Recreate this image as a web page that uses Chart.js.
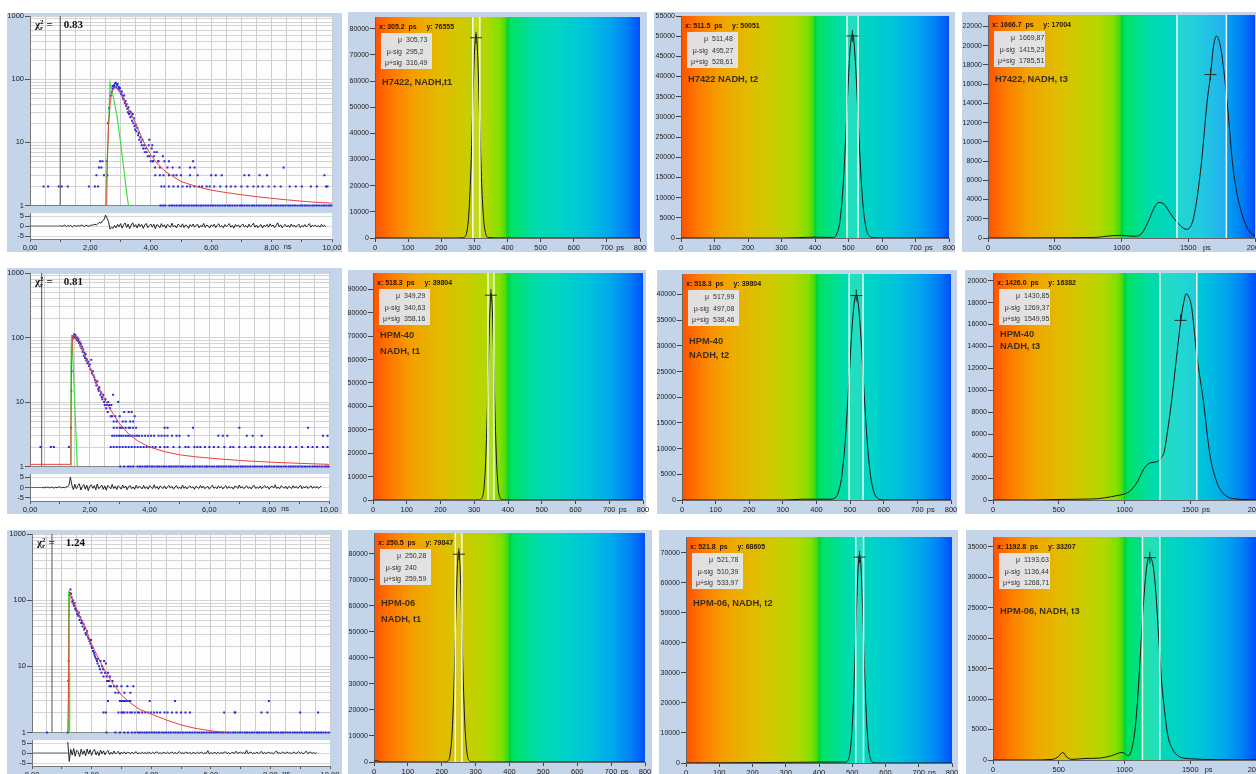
<!DOCTYPE html>
<html>
<head>
<meta charset="utf-8">
<script src="https://cdn.jsdelivr.net/npm/chart.js@4.4.1/dist/chart.umd.min.js"></script>
<style>
  html, body { margin: 0; padding: 0; }
  body { width: 1256px; height: 774px; overflow: hidden; position: relative; background: #fff;
         font-family: "Liberation Sans", Arial, sans-serif; }
  .bg { position: absolute; background: #c4d5ea; }
  canvas { position: absolute; }
  .txt { position: absolute; white-space: nowrap; color: #222; line-height: 1; }
  .readout { font-size: 7px; font-weight: bold; color: #2a1600; }
  .stats { position: absolute; background: rgba(224, 231, 241, 0.93); font-size: 7px; color: #333; }
  .stats div { height: 11.5px; line-height: 11.5px; white-space: nowrap; }
  .stats span { display: inline-block; width: 21px; text-align: right; margin-right: 4px; }
  .title { font-size: 9.3px; font-weight: bold; color: #3a3020; }
  .chi { font-family: "Liberation Serif", "Times New Roman", serif; font-weight: bold; font-size: 11px; color: #111; }
  .chi i { display: inline-block; font-style: normal; font-size: 7px; line-height: 6px; vertical-align: middle; margin-right: 3px; }
  .unit { font-size: 7.5px; color: #222; }
</style>
</head>
<body>
<script>
// ---------- decay data (counts vs time, ns) ----------
const d1Chi = '0.83';
const d1Cursor = 1.0;
const d1IrfX = [2.5, 2.58, 2.65, 2.75, 2.87, 3.0, 3.1, 3.2, 3.26];
const d1IrfY = [1, 10, 88, 55, 28, 10, 4, 1.6, 1];
const d1FitX = [0, 2.54, 2.56, 2.6, 2.65, 2.7, 2.76, 2.81, 2.9, 2.98, 3.1, 3.2, 3.35, 3.5, 3.75, 4.0, 4.25, 4.5, 5.0, 5.5, 6.0, 6.5, 7.0, 7.5, 8.0, 8.5, 9.0, 9.5, 10];
const d1FitY = [1, 1, 5, 18, 40, 60, 70, 75, 72, 65, 48, 37, 28, 20, 10.5, 6.3, 4.4, 3.4, 2.4, 2.0, 1.75, 1.6, 1.48, 1.38, 1.3, 1.23, 1.17, 1.12, 1.09];
const d1PtsX = [2.54, 2.56, 2.58, 2.62, 2.66, 2.7, 2.72, 2.74, 2.76, 2.78, 2.8, 2.82, 2.84, 2.86, 2.88, 2.9, 2.92, 2.94, 2.96, 2.98, 3.0, 3.02, 3.04, 3.06, 3.08, 3.1, 3.12, 3.14, 3.16, 3.18, 3.2, 3.22, 3.24, 3.26, 3.28, 3.3, 3.32, 3.34, 3.36, 3.38, 3.4, 3.42, 3.44, 3.46, 3.48, 3.5, 3.52, 3.55, 3.58, 3.6, 3.62, 3.65, 3.68, 3.7, 3.72, 3.75, 3.78, 3.8, 3.83, 3.86, 3.9, 3.93, 3.95, 3.96, 4.0, 4.03, 4.05, 4.07, 4.1, 4.12, 4.14, 4.2, 4.25, 4.3, 4.4, 4.45, 4.55, 4.6, 5.4, 8.4];
const d1PtsY = [5, 3, 20, 35, 55, 62, 70, 78, 72, 80, 76, 85, 88, 74, 80, 84, 70, 75, 66, 72, 62, 58, 64, 55, 50, 48, 55, 42, 45, 38, 40, 34, 30, 36, 28, 31, 25, 30, 26, 22, 28, 20, 24, 18, 16, 19, 15, 17, 13, 14, 11, 12, 10, 9, 11, 8, 9, 7, 8, 7, 6, 9, 11, 6, 5, 8, 9, 5, 6, 7, 4, 7, 5, 4, 6, 5, 4, 5, 5, 4];
const d1Lev5 = [2.32, 2.4, 4.08, 4.25];
const d1Lev4 = [2.28, 2.36, 4.72, 4.95, 5.3, 5.45];
const d1Lev3 = [2.2, 2.45, 4.15, 4.3, 4.42, 4.6, 4.75, 4.85, 5.0, 5.3, 5.55, 6.0, 6.15, 6.35, 7.1, 7.25, 7.6, 7.85, 9.75];
const d1Lev2 = [0.45, 0.6, 0.95, 1.05, 1.25, 1.95, 2.15, 2.25, 4.35, 4.45, 4.6, 4.75, 4.9, 5.05, 5.2, 5.3, 5.45, 5.6, 5.7, 5.85, 5.95, 6.1, 6.3, 6.5, 6.65, 6.8, 7.0, 7.2, 7.4, 7.55, 7.7, 7.9, 8.1, 8.3, 8.6, 8.8, 9.0, 9.3, 9.5, 9.8, 9.85];
const d1Lev1 = [4.32, 4.4, 4.48, 4.62, 4.7, 4.78, 4.86, 4.95, 5.02, 5.1, 5.18, 5.26, 5.35, 5.42, 5.5, 5.58, 5.66, 5.74, 5.82, 5.9, 5.98, 6.06, 6.14, 6.22, 6.3, 6.38, 6.46, 6.55, 6.62, 6.7, 6.78, 6.86, 6.95, 7.02, 7.1, 7.18, 7.26, 7.35, 7.42, 7.5, 7.58, 7.66, 7.74, 7.82, 7.9, 7.98, 8.06, 8.14, 8.22, 8.3, 8.38, 8.46, 8.55, 8.62, 8.7, 8.78, 8.86, 8.95, 9.02, 9.1, 9.18, 9.26, 9.35, 9.42, 9.5, 9.58, 9.66, 9.74, 9.82, 9.9, 9.97];
const d1ResStart = 1.0;
const d1Res = [0.3, -0.2, 0.1, 0.4, -0.3, 0.2, -0.1, 0.3, -0.4, 0.1, 0.2, -0.2, 0.3, -0.1, 0.5, 0.2, -0.3, 0.4, 0.1, -0.2, 0.3, 0.4, 0.6, 0.9, 0.5, 1.2, 1.8, 1.4, 2.6, 3.1, 5.4, 4.0, 2.2, -1.6, -0.6, -1.2, 0.3, -0.9, 0.8, -0.4, 1.2, -1.1, 0.6, 1.5, -0.7, 0.9, -1.3, 0.4, 1.6, -0.5, 0.7, -1.0, 1.1, -0.3, 0.8, -1.2, 0.5, 1.3, -0.8, 0.2, 1.0, -0.6, 0.9, -1.4, 0.7, 0.3, -0.9, 1.2, -0.4, 0.6, -1.1, 0.8, 0.2, -0.7, 1.4, -0.5, 0.3, -1.0, 0.9, 0.4, -0.6, 1.1, -0.8, 0.5, 0.2, -1.2, 0.7, -0.3, 1.0, -0.6, 0.4, 0.8, -0.9, 0.3, -0.4, 1.3, -0.7, 0.5, 0.1, -1.0, 0.6, -0.2, 0.9, -0.8, 0.4, 1.1, -0.5, 0.2, -0.9, 0.7, -0.3, 0.5, 1.2, -0.6, 0.3, -1.1, 0.8, -0.2, 0.6, -0.7, 0.4, 1.0, -0.5, 0.2, -0.8, 0.9, -0.4, 0.3, 1.4, -0.6, 0.5, -0.9, 0.2, 0.7, -1.0, 0.4, -0.3, 0.8, -0.6, 1.1, -0.2, 0.5, -0.8, 0.3, 1.6, -0.4, 0.6, -0.9, 0.2, 0.8, -0.5, 0.4, -0.7, 1.0, -0.3, 0.5, -0.6, 0.3, 0.9, -0.8, 0.2, -0.4, 0.7, -0.5, 0.3, 1.2, -0.6, 0.4, -0.2, 0.5, -0.4, 0.3, -0.6, 0.8, -0.3, 0.4, -0.5];

const d2Chi = '0.81';
const d2Cursor = 0.39;
const d2IrfX = [1.35, 1.37, 1.39, 1.41, 1.47, 1.53, 1.58];
const d2IrfY = [1, 40, 110, 95, 20, 4, 1];
const d2FitX = [0, 1.36, 1.37, 1.39, 1.42, 1.45, 1.5, 1.6, 1.7, 1.8, 1.9, 2.0, 2.1, 2.2, 2.35, 2.5, 2.7, 3.0, 3.3, 3.6, 4.0, 4.5, 5.0, 5.5, 6.0, 7.0, 8.0, 9.0, 10];
const d2FitY = [1.08, 1.08, 3.5, 40, 95, 108, 104, 90, 74, 58, 45, 35, 27, 21, 15, 11, 7.5, 4.6, 3.2, 2.5, 2.0, 1.7, 1.52, 1.42, 1.35, 1.24, 1.17, 1.12, 1.08];
const d2PtsX = [1.37, 1.38, 1.39, 1.4, 1.42, 1.44, 1.46, 1.48, 1.5, 1.52, 1.54, 1.56, 1.58, 1.6, 1.62, 1.64, 1.66, 1.68, 1.7, 1.72, 1.74, 1.76, 1.78, 1.8, 1.82, 1.84, 1.86, 1.88, 1.9, 1.92, 1.95, 1.97, 2.0, 2.02, 2.05, 2.07, 2.1, 2.12, 2.15, 2.18, 2.2, 2.22, 2.25, 2.28, 2.3, 2.32, 2.35, 2.38, 2.4, 2.42, 2.45, 2.48, 2.5, 2.52, 2.55, 2.58, 2.6, 2.62, 2.65, 2.68, 2.7, 2.72, 2.75, 2.78, 2.8, 2.85, 2.9, 2.95, 3.0, 3.05, 3.1, 3.15, 3.2, 3.3, 3.35, 3.4, 3.45, 3.5];
const d2PtsY = [4, 15, 30, 60, 95, 105, 100, 112, 102, 108, 98, 92, 100, 88, 94, 82, 86, 75, 80, 68, 72, 60, 65, 52, 58, 48, 55, 44, 46, 40, 42, 36, 38, 32, 45, 28, 30, 26, 24, 22, 20, 18, 21, 16, 15, 17, 13, 14, 12, 11, 13, 10, 9, 11, 8, 9, 7, 10, 9, 8, 6, 9, 6, 13, 5, 6, 5, 10, 6, 4, 5, 7, 5, 7, 5, 7, 5, 6];
const d2Lev4 = [2.8, 2.9, 3.0, 3.1, 3.2, 3.3, 3.35, 3.45, 3.55, 4.5, 4.6, 5.45, 7.0, 9.3];
const d2Lev3 = [2.75, 2.82, 2.9, 2.98, 3.05, 3.12, 3.2, 3.28, 3.35, 3.42, 3.5, 3.58, 3.65, 3.75, 3.85, 3.95, 4.05, 4.15, 4.3, 4.4, 4.5, 4.6, 4.75, 4.9, 5.0, 5.3, 6.3, 6.45, 6.6, 7.25, 7.45, 7.75, 9.8, 9.95];
const d2Lev2 = [0.35, 0.7, 0.8, 1.3, 2.7, 2.8, 2.9, 3.0, 3.1, 3.2, 3.3, 3.4, 3.5, 3.6, 3.7, 3.8, 3.9, 4.0, 4.1, 4.2, 4.35, 4.5, 4.6, 4.8, 5.0, 5.2, 5.3, 5.5, 5.6, 5.7, 5.85, 6.0, 6.15, 6.3, 6.5, 6.7, 6.8, 7.0, 7.2, 7.4, 7.5, 7.7, 7.85, 8.0, 8.2, 8.35, 8.5, 8.7, 8.9, 9.1, 9.3, 9.45, 9.6, 9.8, 9.95];
const d2Lev1 = [3.02, 3.15, 3.28, 3.36, 3.45, 3.6, 3.68, 3.76, 3.85, 3.92, 4.0, 4.08, 4.16, 4.25, 4.32, 4.4, 4.48, 4.56, 4.65, 4.72, 4.8, 4.88, 4.96, 5.05, 5.12, 5.2, 5.28, 5.36, 5.45, 5.52, 5.6, 5.68, 5.76, 5.85, 5.92, 6.0, 6.08, 6.16, 6.25, 6.32, 6.4, 6.48, 6.56, 6.65, 6.72, 6.8, 6.88, 6.96, 7.05, 7.12, 7.2, 7.28, 7.36, 7.45, 7.52, 7.6, 7.68, 7.76, 7.85, 7.92, 8.0, 8.08, 8.16, 8.25, 8.32, 8.4, 8.48, 8.56, 8.65, 8.72, 8.8, 8.88, 8.96, 9.05, 9.12, 9.2, 9.28, 9.36, 9.45, 9.52, 9.6, 9.68, 9.76, 9.85, 9.92, 9.98];
const d2ResStart = 0.4;
const d2Res = [0.1, -0.2, 0.2, -0.1, 0.3, -0.2, 0.1, 0.2, -0.3, 0.1, -0.1, 0.2, 0.3, -0.2, 0.1, -0.1, 0.2, 0.4, 0.9, 5.0, 1.2, -1.0, 1.6, -0.6, 0.9, 1.8, -1.2, 0.5, 1.4, -0.8, 1.1, -1.5, 0.7, 1.3, -0.4, 0.9, -1.1, 1.7, -0.6, 0.3, 1.2, -0.9, 0.8, -1.3, 1.0, 0.4, -0.7, 1.5, -0.5, 0.6, -1.0, 0.9, 0.2, -0.8, 1.2, -0.3, 0.7, -1.1, 0.5, 0.9, -0.6, 0.3, -0.9, 1.1, -0.4, 0.6, 0.2, -0.7, 1.0, -0.5, 0.4, -0.8, 0.9, 0.1, -0.6, 1.3, -0.4, 0.5, -0.9, 0.7, 0.2, -0.5, 0.8, -0.7, 0.4, 1.0, -0.3, 0.6, -0.8, 0.3, 0.9, -0.5, 0.2, -0.6, 1.2, -0.4, 0.5, -0.7, 0.3, 0.8, -0.2, 0.4, -0.9, 0.6, 0.1, -0.5, 1.0, -0.3, 0.7, -0.6, 0.2, 0.5, -0.8, 0.4, 1.1, -0.4, 0.3, -0.6, 0.8, -0.2, 0.5, -0.7, 0.3, 0.9, -0.5, 0.6, -0.3, 0.2, -0.8, 0.7, 0.4, -0.5, 1.2, -0.3, 0.5, -0.6, 0.2, 0.8, -0.4, 0.3, -0.7, 0.6, 1.0, -0.5, 0.2, -0.4, 0.7, -0.6, 0.3, 0.9, -0.2, 0.5, -0.8, 0.4, 0.6, -0.3, 1.3, -0.5, 0.2, -0.6, 0.8, 0.3, -0.4, 0.7, -0.7, 0.5, 0.1, -0.5, 0.9, -0.3, 0.6, -0.4, 0.2, 1.1, -0.6, 0.4, -0.2, 0.7, -0.5, 0.3, 0.8, -0.4, 0.5, -0.3, 0.6, -0.5, 0.3, 0.7];

const d3Chi = '1.24';
const d3Cursor = 0.67;
const d3IrfX = [1.21, 1.225, 1.235, 1.25, 1.265];
const d3IrfY = [1, 12, 140, 8, 1];
const d3FitX = [1.2, 1.22, 1.25, 1.27, 1.35, 1.45, 1.55, 1.65, 1.75, 1.85, 1.95, 2.1, 2.3, 2.5, 2.7, 3.0, 3.3, 3.6, 4.0, 4.5, 5.0, 5.5, 6.0, 6.55];
const d3FitY = [1, 3, 100, 130, 105, 83, 66, 52, 43, 33, 24, 17.5, 11.5, 7.8, 5.6, 3.7, 2.8, 2.25, 1.9, 1.55, 1.3, 1.15, 1.06, 1.0];
const d3PtsX = [1.22, 1.23, 1.25, 1.27, 1.29, 1.31, 1.33, 1.35, 1.37, 1.39, 1.41, 1.43, 1.45, 1.47, 1.5, 1.52, 1.55, 1.57, 1.6, 1.62, 1.65, 1.68, 1.7, 1.72, 1.75, 1.78, 1.8, 1.82, 1.85, 1.88, 1.9, 1.93, 1.96, 1.98, 2.0, 2.02, 2.05, 2.08, 2.1, 2.12, 2.15, 2.18, 2.2, 2.22, 2.25, 2.28, 2.3, 2.33, 2.35, 2.38, 2.4, 2.42, 2.45, 2.48, 2.5, 2.52, 2.55, 2.58, 2.6, 2.62, 2.65, 2.7, 2.75, 2.8, 2.85, 2.9, 3.0, 3.1, 3.2, 3.3, 3.4];
const d3PtsY = [6, 12, 120, 130, 145, 125, 110, 95, 100, 88, 82, 90, 75, 72, 68, 62, 58, 65, 50, 55, 45, 48, 40, 44, 36, 38, 32, 30, 34, 28, 26, 24, 22, 25, 20, 19, 17, 16, 15, 14, 13, 12, 11, 13, 10, 9, 12, 8, 10, 9, 7, 12, 8, 11, 7, 6, 8, 6, 5, 7, 5, 6, 5, 4, 5, 4, 5, 4, 5, 4, 5];
const d3Lev3 = [2.55, 2.95, 3.0, 3.05, 3.1, 3.15, 3.2, 3.25, 3.3, 3.95, 4.8, 7.95];
const d3Lev2 = [2.4, 2.48, 2.9, 3.0, 3.05, 3.1, 3.2, 3.3, 3.35, 3.45, 3.55, 3.6, 3.7, 3.8, 3.9, 4.0, 4.1, 4.2, 4.3, 4.45, 4.55, 4.7, 4.85, 5.0, 5.15, 5.3, 6.45, 6.8, 6.82, 7.7, 7.9, 9.0, 9.6];
const d3Lev1 = [0.5, 1.2, 2.5, 2.8, 2.95, 3.1, 3.22, 3.35, 3.45, 3.55, 3.62, 3.7, 3.78, 3.86, 3.94, 4.02, 4.1, 4.18, 4.26, 4.35, 4.42, 4.5, 4.58, 4.66, 4.75, 4.82, 4.9, 4.98, 5.06, 5.15, 5.22, 5.3, 5.38, 5.46, 5.55, 5.62, 5.7, 5.78, 5.86, 5.95, 6.02, 6.1, 6.18, 6.26, 6.35, 6.42, 6.5, 6.58, 6.66, 6.75, 6.82, 6.9, 6.98, 7.06, 7.15, 7.22, 7.3, 7.38, 7.46, 7.55, 7.62, 7.7, 7.78, 7.86, 7.95, 8.02, 8.1, 8.18, 8.26, 8.35, 8.42, 8.5, 8.58, 8.66, 8.75, 8.82, 8.9, 8.98, 9.06, 9.15, 9.22, 9.3, 9.38, 9.46, 9.55, 9.62, 9.7, 9.78, 9.86, 9.95];
const d3ResStart = 1.2;
const d3Res = [5.5, -4.2, 1.8, -1.0, 2.2, -1.6, 1.4, 0.6, -1.8, 1.9, -0.7, 1.2, -1.4, 2.0, -0.5, 1.6, -1.2, 0.9, 1.8, -1.0, 0.7, -1.3, 1.5, -0.4, 1.1, -0.9, 0.6, 1.3, -0.8, 0.4, -0.6, 1.0, -0.5, 0.3, 0.8, -0.7, 0.5, -0.3, 0.6, -0.5, 0.4, 0.2, -0.4, 0.5, -0.3, 0.3, 0.6, -0.5, 0.2, -0.3, 0.4, -0.2, 0.3, -0.4, 0.5, 0.1, -0.3, 0.4, -0.2, 0.3, 0.6, -0.3, 0.2, -0.4, 0.3, 0.1, -0.2, 0.4, -0.3, 0.2, 0.5, -0.2, 0.3, -0.3, 0.2, 0.7, -0.2, 0.1, -0.3, 0.4, 0.2, -0.2, 0.3, -0.4, 0.2, 0.1, -0.3, 0.5, -0.2, 0.2, 0.4, -0.3, 0.1, -0.2, 1.2, -0.4, 0.2, -0.3, 0.3, 0.1, -0.2, 0.4, -0.3, 0.2, -0.1, 0.3, 0.6, -0.3, 0.2, -0.4, 0.3, 0.1, -0.2, 0.9, -0.3, 0.2, 0.4, -0.2, 0.3, -0.4, 1.4, -0.3, 0.2, 0.5, -0.3, 0.1, -0.2, 0.4, -0.3, 0.2, 0.8, -0.4, 0.3, -0.2, 0.1, 0.5, -0.3, 0.2, -0.4, 0.3, 1.0, -0.2, 0.2, -0.3, 0.4, 0.1, -0.3, 0.6, -0.2, 0.3, -0.4, 0.2, 0.5, -0.3, 0.1, 0.7, -0.2, 0.3, -0.4, 0.2, 0.9, -0.3, 0.2, 0.4, -0.2, 0.3, -0.3, 0.2];

const decayXTicks = [0, 1, 2, 3, 4, 5, 6, 7, 8, 9, 10];
const decayXLabels = ['0,00', '', '2,00', '', '4,00', '', '6,00', '', '8,00', '', '10,00'];
const resTicks = [-5, 0, 5];
const RES_STEP = 0.05;

// ---------- lifetime histograms (counts vs ps) ----------
const psTicks800 = [0, 100, 200, 300, 400, 500, 600, 700, 800];
const psTicks2000 = [0, 500, 1000, 1500, 2000];
const yTicks10k = [0, 10000, 20000, 30000, 40000, 50000, 60000, 70000, 80000, 90000];
const yTicks5k = [0, 5000, 10000, 15000, 20000, 25000, 30000, 35000, 40000, 45000, 50000, 55000];
const yTicks2k = [0, 2000, 4000, 6000, 8000, 10000, 12000, 14000, 16000, 18000, 20000, 22000];

const h12X = [0, 100, 200, 240, 255, 265, 272, 278, 284, 290, 295, 300, 305, 310, 316, 322, 328, 334, 340, 348, 358, 370, 400, 500, 800];
const h12Y = [0, 0, 0, 0, 30, 120, 560, 2850, 10550, 28100, 49600, 69700, 78000, 69700, 45000, 21000, 7100, 1720, 300, 150, 80, 40, 0, 0, 0];
const h12Sig = [295.2, 316.49];
const h12Cross = [305.2, 76555];
const h12Read = ['305.2', '76555'];
const h12Stats = ['305,73', '295,2', '316,49'];
const h12Title = ['H7422, NADH,t1'];

const h13X = [0, 300, 350, 400, 440, 455, 465, 475, 485, 492, 500, 506, 511, 516, 522, 530, 538, 546, 555, 565, 575, 590, 610, 650, 800];
const h13Y = [0, 0, 100, 200, 150, 160, 1010, 4550, 14250, 25500, 39800, 47900, 50600, 48800, 41500, 27300, 14250, 5940, 1670, 290, 80, 20, 0, 0, 0];
const h13Sig = [495.27, 528.61];
const h13Cross = [511.5, 50051];
const h13Read = ['511.5', '50051'];
const h13Stats = ['511,48', '495,27', '528,61'];
const h13Title = ['H7422 NADH, t2'];

const h14X = [0, 400, 800, 850, 900, 950, 1000, 1050, 1100, 1150, 1200, 1240, 1280, 1320, 1360, 1400, 1440, 1487, 1530, 1560, 1600, 1640, 1667, 1690, 1712, 1740, 1770, 1800, 1830, 1860, 1900, 1940, 1970, 2000];
const h14Y = [0, 20, 60, 120, 200, 260, 280, 220, 180, 450, 1700, 3000, 3700, 3500, 2700, 1900, 1300, 900, 1600, 3600, 8000, 14000, 17000, 20000, 21000, 20000, 17000, 12800, 8000, 5000, 2600, 1100, 500, 200];
const h14Sig = [1415.23, 1785.51];
const h14Cross = [1666.7, 17004];
const h14Read = ['1666.7', '17004'];
const h14Stats = ['1669,87', '1415,23', '1785,51'];
const h14Title = ['H7422, NADH, t3'];

const h22X = [0, 200, 300, 315, 322, 328, 333, 338, 342, 346, 350, 354, 358, 362, 366, 371, 376, 382, 390, 400, 800];
const h22Y = [0, 0, 0, 30, 560, 3900, 13700, 34800, 58300, 79500, 88300, 79500, 58300, 34800, 17000, 5100, 1130, 120, 30, 0, 0];
const h22Sig = [340.63, 358.16];
const h22Cross = [349.3, 87500];
const h22Read = ['518.3', '39804'];
const h22Stats = ['349,29', '340,63', '358,16'];
const h22Title = ['HPM-40', 'NADH, t1'];

const h23X = [0, 300, 360, 400, 440, 455, 465, 475, 485, 495, 505, 512, 518, 524, 531, 541, 551, 561, 571, 581, 592, 605, 620, 800];
const h23Y = [0, 0, 150, 150, 150, 390, 1500, 4600, 11200, 21500, 32800, 38300, 40000, 38300, 32800, 21500, 11200, 4600, 1500, 390, 70, 20, 0, 0];
const h23Sig = [497.08, 538.46];
const h23Cross = [518.3, 39804];
const h23Read = ['518.3', '39804'];
const h23Stats = ['517,99', '497,08', '538,46'];
const h23Title = ['HPM-40', 'NADH, t2'];

const h24X = [0, 300, 450, 600, 700, 800, 850, 900, 950, 1000, 1050, 1100, 1150, 1200, 1250, 1280, 1300, 1330, 1360, 1400, 1430, 1450, 1470, 1490, 1510, 1550, 1600, 1650, 1700, 1750, 1800, 1850, 1900, 2000];
const h24Y = [0, 0, 40, 60, 80, 120, 200, 300, 420, 550, 900, 1700, 2900, 3400, 3500, 3900, 4300, 6500, 9200, 13500, 16500, 18000, 18800, 18500, 17600, 13200, 9000, 4100, 1700, 600, 200, 90, 50, 0];
const h24Sig = [1269.37, 1549.95];
const h24Cross = [1426.0, 16382];
const h24Read = ['1426.0', '16382'];
const h24Stats = ['1430,85', '1269,37', '1549,95'];
const h24Title = ['HPM-40', 'NADH, t3'];

const h32X = [0, 8, 20, 100, 200, 210, 218, 225, 231, 236, 241, 246, 250, 254, 259, 264, 269, 275, 282, 290, 300, 330, 800];
const h32Y = [300, 500, 0, 0, 0, 20, 390, 3100, 12400, 29200, 53000, 74500, 81000, 75000, 53000, 29200, 12400, 3100, 500, 80, 30, 0, 0];
const h32Sig = [240, 259.59];
const h32Cross = [250.5, 79847];
const h32Read = ['250.5', '79847'];
const h32Stats = ['250,28', '240', '259,59'];
const h32Title = ['HPM-06', 'NADH, t1'];

const h33X = [0, 300, 400, 470, 480, 488, 496, 503, 509, 514, 518, 522, 526, 530, 535, 541, 548, 556, 565, 575, 590, 800];
const h33Y = [0, 200, 300, 300, 320, 1090, 6120, 19000, 37800, 55200, 65600, 69500, 65600, 55200, 37800, 19000, 6120, 1090, 90, 20, 0, 0];
const h33Sig = [510.39, 533.97];
const h33Cross = [521.8, 68605];
const h33Read = ['521.8', '68605'];
const h33Stats = ['521,78', '510,39', '533,97'];
const h33Title = ['HPM-06, NADH, t2'];

const h34X = [0, 300, 450, 500, 530, 560, 600, 700, 800, 900, 950, 975, 1000, 1028, 1050, 1080, 1100, 1120, 1142, 1165, 1185, 1200, 1220, 1240, 1260, 1280, 1300, 1330, 1360, 1400, 1450, 1500, 1600, 1800, 2000];
const h34Y = [0, 0, 100, 600, 1250, 500, 100, 250, 300, 700, 1100, 1250, 1100, 700, 1400, 5000, 10000, 17000, 25000, 31000, 33200, 33100, 31500, 27000, 20000, 13500, 9000, 4000, 2000, 800, 300, 200, 100, 30, 0];
const h34Sig = [1136.44, 1268.71];
const h34Cross = [1192.8, 33207];
const h34Read = ['1192.8', '33207'];
const h34Stats = ['1193,63', '1136,44', '1268,71'];
const h34Title = ['HPM-06, NADH, t3'];

// ---------- helpers ----------
Chart.defaults.font.family = '"Liberation Sans", Arial, sans-serif';
Chart.defaults.color = '#222';

const SPECTRUM = [
  [0, '#ff5200'], [0.06, '#ff7800'], [0.15, '#f3a200'], [0.25, '#e2bb00'], [0.33, '#cfca00'],
  [0.42, '#b2d800'], [0.47, '#84e000'], [0.494, '#40dc10'], [0.5, '#00d43c'], [0.512, '#00e264'],
  [0.6, '#00dcaa'], [0.7, '#00d4c6'], [0.8, '#00c2dc'], [0.88, '#00a8ec'], [0.95, '#0080f6'], [1, '#0050ff']
];

const spectrumBg = {
  id: 'spectrumBg',
  beforeDraw(chart, args, opts) {
    const {ctx, chartArea: a} = chart;
    const g = ctx.createLinearGradient(a.left, 0, a.right, 0);
    SPECTRUM.forEach(s => g.addColorStop(s[0], s[1]));
    ctx.save();
    ctx.fillStyle = g;
    ctx.fillRect(a.left, a.top, a.right - a.left, a.bottom - a.top);
    const xa = chart.scales.x.getPixelForValue(opts.lo);
    const xb = chart.scales.x.getPixelForValue(opts.hi);
    ctx.fillStyle = 'rgba(255,255,255,0.13)';
    ctx.fillRect(xa, a.top, xb - xa, a.bottom - a.top);
    ctx.restore();
  }
};

const whiteArea = {
  id: 'whiteArea',
  beforeDraw(chart) {
    const {ctx, chartArea: a} = chart;
    ctx.save();
    ctx.fillStyle = '#fdfdfd';
    ctx.fillRect(a.left, a.top, a.right - a.left, a.bottom - a.top);
    ctx.restore();
  }
};

function addBg(r) {
  const d = document.createElement('div');
  d.className = 'bg';
  d.style.left = r[0] + 'px'; d.style.top = r[1] + 'px';
  d.style.width = (r[2] - r[0]) + 'px'; d.style.height = (r[3] - r[1]) + 'px';
  document.body.appendChild(d);
}

function addText(cls, x, y, html) {
  const d = document.createElement('div');
  d.className = 'txt ' + cls;
  d.style.left = x + 'px'; d.style.top = y + 'px';
  d.innerHTML = html;
  document.body.appendChild(d);
  return d;
}

function addCanvas(cv) {
  const c = document.createElement('canvas');
  c.width = cv[2] - cv[0];
  c.height = cv[3] - cv[1];
  c.style.left = cv[0] + 'px'; c.style.top = cv[1] + 'px';
  c.style.width = c.width + 'px'; c.style.height = c.height + 'px';
  document.body.appendChild(c);
  return c;
}

function pairs(xs, ys) { return xs.map((x, i) => ({x: x, y: ys[i]})); }
function atCount(xs, n) { return xs.map(x => ({x: x, y: n})); }

const LOG_TICKS = [1, 2, 3, 4, 5, 6, 7, 8, 9, 10, 20, 30, 40, 50, 60, 70, 80, 90, 100, 200, 300, 400, 500, 600, 700, 800, 900, 1000];
const DECADES = [1, 10, 100, 1000];

function decayPanel(bg, main, res, chi, cursor, irfX, irfY, fitX, fitY, ptsX, ptsY, dots, resStart, resVals) {
  addBg(bg);
  const cv = [main[0] - 30, main[1] - 8, main[2] + 14, main[3] + 5];
  new Chart(addCanvas(cv), {
    type: 'scatter',
    data: {
      datasets: [
        { data: pairs(fitX, fitY), showLine: true, borderColor: '#e8413c', borderWidth: 1, pointRadius: 0, order: 1 },
        { data: pairs(irfX, irfY), showLine: true, borderColor: '#3fe03f', borderWidth: 1.2, pointRadius: 0, order: 2 },
        { data: pairs(ptsX, ptsY).concat(dots), pointStyle: 'rect', pointRadius: 1.4, backgroundColor: '#2828d8', borderWidth: 0, order: 3, clip: 3 },
        { data: [{x: cursor, y: 1}, {x: cursor, y: 1000}], showLine: true, borderColor: '#555', borderWidth: 1, pointRadius: 0, order: 4 }
      ]
    },
    options: {
      responsive: false, animation: false, events: [],
      layout: { padding: { left: 0, top: main[1] - cv[1], right: cv[2] - main[2], bottom: 0 } },
      plugins: { legend: { display: false }, tooltip: { enabled: false } },
      scales: {
        x: {
          type: 'linear', min: 0, max: 10,
          ticks: { display: false, stepSize: 0.5, autoSkip: false },
          grid: { color: '#cdcdcd', drawTicks: false },
          border: { color: '#888' },
          afterFit(s) { s.height = cv[3] - main[3]; }
        },
        y: {
          type: 'logarithmic', min: 1, max: 1000,
          afterBuildTicks(s) { s.ticks = LOG_TICKS.map(v => ({value: v})); },
          ticks: { autoSkip: false, padding: 1, font: { size: 7.5 },
                   callback: v => DECADES.includes(v) ? String(v) : '' },
          grid: { color: '#d3d3d3', tickLength: 5,
                  tickColor: c => DECADES.includes(c.tick.value) ? '#555' : 'rgba(0,0,0,0)' },
          border: { color: '#777' },
          afterFit(s) { s.width = main[0] - cv[0]; }
        }
      }
    },
    plugins: [whiteArea]
  });

  const rcv = [res[0] - 30, res[1] - 6, res[2] + 14, res[3] + 14];
  const resData = resVals.map((v, i) => ({x: +(resStart + i * RES_STEP).toFixed(3), y: v})).filter(p => p.x <= 10);
  new Chart(addCanvas(rcv), {
    type: 'scatter',
    data: {
      datasets: [
        { data: [{x: 0, y: 0}, {x: resStart, y: 0}], showLine: true, borderColor: '#666', borderWidth: 1, pointRadius: 0 },
        { data: resData, showLine: true, borderColor: '#111', borderWidth: 0.9, pointRadius: 0 }
      ]
    },
    options: {
      responsive: false, animation: false, events: [],
      layout: { padding: { left: 0, top: res[1] - rcv[1], right: rcv[2] - res[2], bottom: 0 } },
      plugins: { legend: { display: false }, tooltip: { enabled: false } },
      scales: {
        x: {
          type: 'linear', min: 0, max: 10,
          afterBuildTicks(s) { s.ticks = decayXTicks.map(v => ({value: v})); },
          ticks: { autoSkip: false, maxRotation: 0, padding: 1, font: { size: 7.5 },
                   callback: v => decayXLabels[decayXTicks.indexOf(v)] },
          grid: { drawOnChartArea: false, tickLength: 3, tickColor: '#555' },
          border: { color: '#777' },
          afterFit(s) { s.height = rcv[3] - res[3]; }
        },
        y: {
          type: 'linear', min: -6.5, max: 6.5,
          afterBuildTicks(s) { s.ticks = resTicks.map(v => ({value: v})); },
          ticks: { padding: 1, font: { size: 7.5 } },
          grid: { color: '#dadada', tickLength: 5, tickColor: '#555' },
          border: { color: '#777' },
          afterFit(s) { s.width = res[0] - rcv[0]; }
        }
      }
    },
    plugins: [whiteArea]
  });

  addText('chi', main[0] + 5, main[1] + 3,
    'χ<i>2<br>r</i>=&nbsp;&nbsp;&nbsp;&nbsp;' + chi);
  addText('unit', res[0] + 0.84 * (res[2] - res[0]), res[3] + 4, 'ns');
}

function histPanel(bg, plot, xTicks, yTicks, yMax, xs, ys, sig, cross, read, stats, title, titleTop, lineH, psAt) {
  addBg(bg);
  const xMax = xTicks[xTicks.length - 1];
  const cv = [plot[0] - 30, plot[1] - 8, plot[2] + 16, plot[3] + 16];
  new Chart(addCanvas(cv), {
    type: 'scatter',
    data: {
      datasets: [
        { data: [{x: cross[0], y: cross[1]}], pointStyle: 'cross', pointRadius: 6,
          borderColor: '#2a2a2a', borderWidth: 1, order: 0 },
        { data: [{x: sig[0], y: 0}, {x: sig[0], y: yMax}], showLine: true, borderColor: 'rgba(245,255,245,0.95)', borderWidth: 1.5, pointRadius: 0, order: 1 },
        { data: [{x: sig[1], y: 0}, {x: sig[1], y: yMax}], showLine: true, borderColor: 'rgba(245,255,245,0.95)', borderWidth: 1.5, pointRadius: 0, order: 1 },
        { data: pairs(xs, ys), showLine: true, borderColor: '#151515', borderWidth: 1,
          pointRadius: 0, cubicInterpolationMode: 'monotone', order: 2 }
      ]
    },
    options: {
      responsive: false, animation: false, events: [],
      layout: { padding: { left: 0, top: plot[1] - cv[1], right: cv[2] - plot[2], bottom: 0 } },
      plugins: { legend: { display: false }, tooltip: { enabled: false }, spectrumBg: { lo: sig[0], hi: sig[1] } },
      scales: {
        x: {
          type: 'linear', min: 0, max: xMax,
          afterBuildTicks(s) { s.ticks = xTicks.map(v => ({value: v})); },
          ticks: { autoSkip: false, maxRotation: 0, padding: 1, font: { size: 7.5 }, callback: v => String(v) },
          grid: { drawOnChartArea: false, tickLength: 4, tickColor: '#444' },
          border: { color: '#666' },
          afterFit(s) { s.height = cv[3] - plot[3]; }
        },
        y: {
          type: 'linear', min: 0, max: yMax,
          afterBuildTicks(s) { s.ticks = yTicks.filter(v => v <= yMax).map(v => ({value: v})); },
          ticks: { autoSkip: false, padding: 1, font: { size: 7 }, callback: v => String(v) },
          grid: { drawOnChartArea: false, tickLength: 5, tickColor: '#444' },
          border: { color: '#666' },
          afterFit(s) { s.width = plot[0] - cv[0]; }
        }
      }
    },
    plugins: [spectrumBg]
  });

  addText('readout', plot[0] + 4, plot[1] + 6,
    'x: ' + read[0] + '&nbsp;&nbsp;ps&nbsp;&nbsp;&nbsp;&nbsp;&nbsp;y: ' + read[1]);
  const box = document.createElement('div');
  box.className = 'stats';
  box.style.left = (plot[0] + 6) + 'px';
  box.style.top = (plot[1] + 16) + 'px';
  box.style.width = '51px';
  box.style.paddingTop = '1px';
  box.innerHTML = '<div><span>μ</span>' + stats[0] + '</div>' +
                  '<div><span>μ-sig</span>' + stats[1] + '</div>' +
                  '<div><span>μ+sig</span>' + stats[2] + '</div>';
  document.body.appendChild(box);
  title.forEach((t, i) => addText('title', plot[0] + 7, plot[1] + titleTop + i * lineH, t));
  addText('unit', plot[0] + (psAt / xMax) * (plot[2] - plot[0]) - 4, plot[3] + 6, 'ps');
}

// ---------- draw ----------
decayPanel([7, 13, 342, 252], [30, 16, 332, 206], [30, 213, 332, 239], d1Chi, d1Cursor,
  d1IrfX, d1IrfY, d1FitX, d1FitY, d1PtsX, d1PtsY,
  atCount(d1Lev5, 5).concat(atCount(d1Lev4, 4), atCount(d1Lev3, 3), atCount(d1Lev2, 2), atCount(d1Lev1, 1)),
  d1ResStart, d1Res);
decayPanel([7, 268, 342, 514], [30, 273, 329, 467], [30, 474, 329, 501], d2Chi, d2Cursor,
  d2IrfX, d2IrfY, d2FitX, d2FitY, d2PtsX, d2PtsY,
  atCount(d2Lev4, 4).concat(atCount(d2Lev3, 3), atCount(d2Lev2, 2), atCount(d2Lev1, 1)),
  d2ResStart, d2Res);
decayPanel([7, 530, 342, 774], [32, 534, 330, 733], [32, 740, 330, 766], d3Chi, d3Cursor,
  d3IrfX, d3IrfY, d3FitX, d3FitY, d3PtsX, d3PtsY,
  atCount(d3Lev3, 3).concat(atCount(d3Lev2, 2), atCount(d3Lev1, 1)),
  d3ResStart, d3Res);

histPanel([348, 12, 647, 252], [375, 17, 640, 238], psTicks800, yTicks10k, 84500, h12X, h12Y, h12Sig, h12Cross, h12Read, h12Stats, h12Title, 61, 16, 740);
histPanel([654, 12, 955, 252], [681, 16, 949, 238], psTicks800, yTicks5k, 55000, h13X, h13Y, h13Sig, h13Cross, h13Read, h13Stats, h13Title, 59, 16, 740);
histPanel([962, 12, 1256, 252], [988, 15, 1255, 238], psTicks2000, yTicks2k, 23200, h14X, h14Y, h14Sig, h14Cross, h14Read, h14Stats, h14Title, 60, 16, 1640);
histPanel([348, 270, 646, 514], [373, 273, 643, 500], psTicks800, yTicks10k, 97000, h22X, h22Y, h22Sig, h22Cross, h22Read, h22Stats, h22Title, 58, 16, 740);
histPanel([657, 270, 957, 514], [682, 274, 951, 500], psTicks800, yTicks5k, 44000, h23X, h23Y, h23Sig, h23Cross, h23Read, h23Stats, h23Title, 63, 14, 740);
histPanel([965, 270, 1256, 514], [993, 273, 1256, 500], psTicks2000, yTicks2k, 20700, h24X, h24Y, h24Sig, h24Cross, h24Read, h24Stats, h24Title, 57, 12, 1620);
histPanel([348, 530, 652, 774], [374, 533, 645, 762], psTicks800, yTicks10k, 88000, h32X, h32Y, h32Sig, h32Cross, h32Read, h32Stats, h32Title, 66, 16, 740);
histPanel([659, 530, 958, 774], [686, 537, 952, 763], psTicks800, yTicks10k, 75300, h33X, h33Y, h33Sig, h33Cross, h33Read, h33Stats, h33Title, 62, 16, 740);
histPanel([966, 530, 1256, 774], [993, 537, 1256, 760], psTicks2000, yTicks5k, 36600, h34X, h34Y, h34Sig, h34Cross, h34Read, h34Stats, h34Title, 70, 16, 1640);
</script>
</body>
</html>
